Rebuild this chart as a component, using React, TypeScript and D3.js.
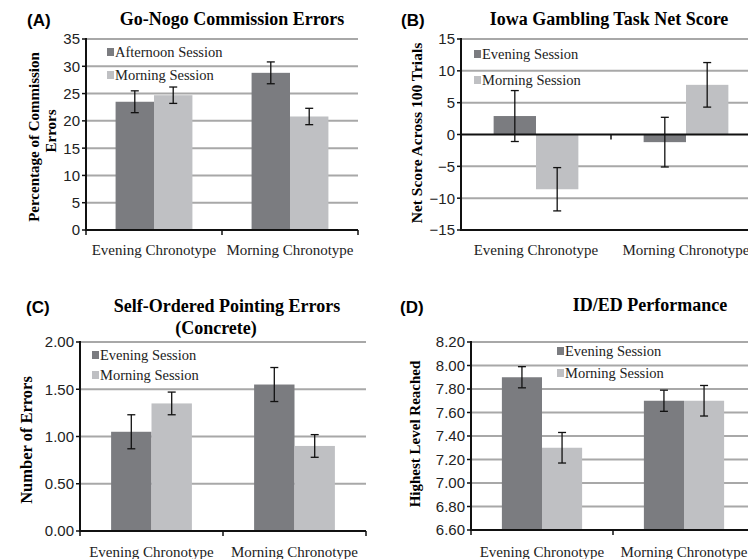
import React from 'react'
import * as d3 from 'd3'

// chart values
const categories = ['Evening Chronotype', 'Morning Chronotype']

const goNogoSeries = ['Afternoon Session', 'Morning Session']
const goNogoMeans = [[23.5, 24.7], [28.8, 20.8]]
const goNogoErrors = [[2.0, 1.5], [2.0, 1.5]]
const goNogoTicks = [0, 5, 10, 15, 20, 25, 30, 35]

const iowaSeries = ['Evening Session', 'Morning Session']
const iowaMeans = [[2.9, -8.6], [-1.2, 7.8]]
const iowaErrors = [[4.0, 3.4], [3.9, 3.5]]
const iowaTicks = [-15, -10, -5, 0, 5, 10, 15]

const sopSeries = ['Evening Session', 'Morning Session']
const sopMeans = [[1.05, 1.35], [1.55, 0.9]]
const sopErrors = [[0.18, 0.12], [0.18, 0.12]]
const sopTicks = [0, 0.5, 1, 1.5, 2]

const idedSeries = ['Evening Session', 'Morning Session']
const idedMeans = [[7.9, 7.3], [7.7, 7.7]]
const idedErrors = [[0.09, 0.13], [0.09, 0.13]]
const idedTicks = [6.6, 6.8, 7.0, 7.2, 7.4, 7.6, 7.8, 8.0, 8.2]

const SANS = '"Liberation Sans", Arial, sans-serif'
const SERIF = '"Liberation Serif", "Times New Roman", serif'
const COLORS = ['#7b7c80', '#bfc0c3']
const GRID = '#a8a8a8'

type PanelProps = {
  label: string
  labelPos: [number, number]
  title: string[]
  titlePos: [number, number][]
  yLabel: string[]
  yLabelPos: [number, number][]
  yLabelSize: number
  left: number
  right: number
  top: number
  bottom: number
  ticks: number[]
  fmt: (v: number) => string
  crossAt: number
  series: string[]
  means: number[][]
  errors: number[][]
  legendPos: [number, number][]
  xLabelY: number
}

function Panel (p: PanelProps) {
  const dom = d3.extent(p.ticks) as [number, number]
  const y = d3.scaleLinear().domain(dom).range([p.bottom, p.top])
  const x0 = d3.scaleBand<string>().domain(categories).range([p.left, p.right]).padding(0)
  const x1 = d3.scaleBand<string>().domain(p.series).range([0, x0.bandwidth()])
    .paddingInner(0).paddingOuter(0.77)
  const axisY = y(p.crossAt)

  return (
    <g>
      <text x={p.labelPos[0]} y={p.labelPos[1]} fontFamily={SANS} fontWeight='bold' fontSize={17}>{p.label}</text>
      {p.title.map((t, i) => (
        <text key={i} x={p.titlePos[i][0]} y={p.titlePos[i][1]} textAnchor='middle'
          fontFamily={SERIF} fontWeight='bold' fontSize={18}>{t}</text>
      ))}
      {p.yLabel.map((t, i) => (
        <text key={i} transform={`translate(${p.yLabelPos[i][0]},${p.yLabelPos[i][1]}) rotate(-90)`}
          textAnchor='middle' fontFamily={SERIF} fontWeight='bold' fontSize={p.yLabelSize}>{t}</text>
      ))}

      {/* gridlines */}
      {p.ticks.filter(t => t !== p.crossAt).map(t => (
        <line key={t} x1={p.left} x2={p.right} y1={y(t)} y2={y(t)}
          stroke={t === dom[0] ? '#111' : GRID} strokeWidth={2} />
      ))}

      {/* y ticks and labels */}
      {p.ticks.map(t => (
        <g key={'t' + t}>
          <line x1={p.left - 4} x2={p.left} y1={y(t)} y2={y(t)} stroke='#111' strokeWidth={1.5} />
          <text x={p.left - 6} y={y(t)} dy='0.36em' textAnchor='end' fontFamily={SANS} fontSize={15} fill='#222'>
            {p.fmt(t)}
          </text>
        </g>
      ))}

      {/* bars */}
      {categories.map((c, ci) => (
        <g key={c} transform={`translate(${x0(c)},0)`}>
          {p.series.map((s, si) => {
            const v = p.means[ci][si]
            const e = p.errors[ci][si]
            const bx = x1(s) as number
            const bw = x1.bandwidth()
            const cx = bx + bw / 2
            return (
              <g key={s}>
                <rect x={bx} width={bw} y={Math.min(y(v), axisY)} height={Math.abs(y(v) - axisY)} fill={COLORS[si]} />
                <line x1={cx} x2={cx} y1={y(v - e)} y2={y(v + e)} stroke='#111' strokeWidth={1.3} />
                <line x1={cx - 4} x2={cx + 4} y1={y(v - e)} y2={y(v - e)} stroke='#111' strokeWidth={1.3} />
                <line x1={cx - 4} x2={cx + 4} y1={y(v + e)} y2={y(v + e)} stroke='#111' strokeWidth={1.3} />
              </g>
            )
          })}
        </g>
      ))}

      {/* axes */}
      <line x1={p.left} x2={p.right} y1={axisY} y2={axisY} stroke='#111' strokeWidth={2} />
      <line x1={p.left} x2={p.left} y1={p.top - 1} y2={p.bottom + 1} stroke='#111' strokeWidth={2} />
      {[p.left, p.left + x0.step(), p.right].map((tx, i) => (
        <line key={i} x1={tx} x2={tx} y1={axisY} y2={axisY + 5} stroke='#111' strokeWidth={1.5} />
      ))}

      {/* x labels */}
      {categories.map(c => (
        <text key={c} x={(x0(c) as number) + x0.bandwidth() / 2} y={p.xLabelY} textAnchor='middle'
          fontFamily={SERIF} fontSize={15} fill='#222'>{c}</text>
      ))}

      {/* legend */}
      {p.series.map((s, i) => (
        <g key={s} transform={`translate(${p.legendPos[i][0]},${p.legendPos[i][1]})`}>
          <rect x={0} y={-9} width={7} height={8} fill={COLORS[i]} />
          <text x={8} y={0} fontFamily={SERIF} fontSize={14.5} fill='#222'>{s}</text>
        </g>
      ))}
    </g>
  )
}

export default function App () {
  return (
    <svg width={748} height={559} viewBox='0 0 748 559'
      style={{ position: 'absolute', left: 0, top: 0, background: '#fff' }}>
      <rect width={748} height={559} fill='#fff' />
      <Panel label='(A)' labelPos={[27, 26]}
        title={['Go-Nogo Commission Errors']} titlePos={[[232, 25]]}
        yLabel={['Percentage of Commission', 'Errors']} yLabelPos={[[39, 137], [56, 131]]} yLabelSize={15}
        left={86} right={358} top={39} bottom={230}
        ticks={goNogoTicks} fmt={v => String(v)} crossAt={0}
        series={goNogoSeries} means={goNogoMeans} errors={goNogoErrors}
        legendPos={[[107, 57], [107, 80]]} xLabelY={255} />
      <Panel label='(B)' labelPos={[401, 26]}
        title={['Iowa Gambling Task Net Score']} titlePos={[[609, 25]]}
        yLabel={['Net Score Across 100 Trials']} yLabelPos={[[422, 133]]} yLabelSize={15.5}
        left={461} right={761} top={39} bottom={230}
        ticks={iowaTicks} fmt={v => String(v).replace('-', '\u2212')} crossAt={0}
        series={iowaSeries} means={iowaMeans} errors={iowaErrors}
        legendPos={[[474, 59], [474, 85]]} xLabelY={255} />
      <Panel label='(C)' labelPos={[26, 313]}
        title={['Self-Ordered Pointing Errors', '(Concrete)']} titlePos={[[227, 312], [216, 334]]}
        yLabel={['Number of Errors']} yLabelPos={[[32, 440]]} yLabelSize={16.5}
        left={80} right={366} top={342} bottom={531}
        ticks={sopTicks} fmt={v => v.toFixed(2)} crossAt={0}
        series={sopSeries} means={sopMeans} errors={sopErrors}
        legendPos={[[92, 360], [92, 380]]} xLabelY={557} />
      <Panel label='(D)' labelPos={[400, 313]}
        title={['ID/ED Performance']} titlePos={[[650, 311]]}
        yLabel={['Highest Level Reached']} yLabelPos={[[420, 434]]} yLabelSize={15}
        left={471} right={755} top={342} bottom={530}
        ticks={idedTicks} fmt={v => v.toFixed(2)} crossAt={6.6}
        series={idedSeries} means={idedMeans} errors={idedErrors}
        legendPos={[[557, 356], [557, 378]]} xLabelY={557} />
    </svg>
  )
}
